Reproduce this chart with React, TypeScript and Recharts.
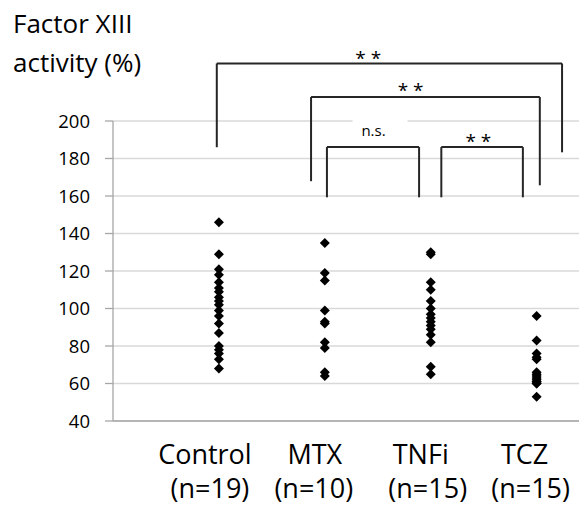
import React from 'react';
import { ScatterChart, Scatter, XAxis, YAxis, CartesianGrid, ReferenceLine, ReferenceDot } from 'recharts';

const FONT = "'Open Sans', 'Noto Sans', sans-serif";

const categories = ['Control', 'MTX', 'TNFi', 'TCZ'];
const groupCounts = ['(n=19)', '(n=10)', '(n=15)', '(n=15)'];
const groupPositions = [1, 2, 3, 4];

const controlValues = [146, 129, 121, 118, 114, 111, 109, 106, 104, 102, 99, 96, 92, 87, 80, 78, 76, 73, 68];
const mtxValues = [135, 119, 115, 99, 93, 92, 82, 79, 66, 64];
const tnfiValues = [130, 129, 114, 110, 104, 100, 97, 95, 93, 91, 89, 86, 82, 69, 65];
const tczValues = [96, 83, 76, 74, 73, 66, 65, 64, 63, 62, 61, 61, 60, 60, 53];

const yTicks = [40, 60, 80, 100, 120, 140, 160, 180, 200];

// significance brackets (x in group units, y in % units)
const brackets = [
  { x1: 0.98, x2: 4.24, top: 230.7, bottom1: 186, bottom2: 183.3 },
  { x1: 1.87, x2: 4.03, top: 212.8, bottom1: 167.9, bottom2: 165.7 },
  { x1: 2.02, x2: 2.89, top: 186.1, bottom1: 159.3, bottom2: 159.3 },
  { x1: 3.1, x2: 3.87, top: 186.1, bottom1: 159.3, bottom2: 159.3 },
];
const bracketLabels = [
  { x: 2.41, y: 230.0, text: '* *', size: 19, box: false },
  { x: 2.81, y: 212.6, text: '* *', size: 19, box: false },
  { x: 2.46, y: 191.8, text: 'n.s.', size: 15, box: true },
  { x: 3.45, y: 185.6, text: '* *', size: 19, box: false },
];

const nameOffsets = [-14, -10, -10, -12];
const countOffsets = [-9, -11, -3, -6];

const seriesValues = [controlValues, mtxValues, tnfiValues, tczValues];
const seriesData = seriesValues.map((vals, i) => vals.map((v) => ({ x: groupPositions[i], y: v })));

function Diamond(props: any) {
  const { cx, cy } = props;
  if (cx == null || cy == null) return null;
  const r = 5;
  return <path d={`M${cx},${cy - r}L${cx + r},${cy}L${cx},${cy + r}L${cx - r},${cy}Z`} fill="#000" />;
}

function CategoryTick(props: any) {
  const { x, y, payload } = props;
  const i = groupPositions.indexOf(payload.value);
  if (i < 0) return null;
  return (
    <g>
      <text x={x + nameOffsets[i]} y={y + 43} textAnchor="middle" fontSize={27} fontFamily={FONT} fill="#000">
        {categories[i]}
      </text>
      <text x={x + countOffsets[i]} y={y + 77} textAnchor="middle" fontSize={27} fontFamily={FONT} fill="#000">
        {groupCounts[i]}
      </text>
    </g>
  );
}

function ValueTick(props: any) {
  const { x, y, payload } = props;
  return (
    <text x={x - 15} y={y} dy="0.36em" textAnchor="end" fontSize={18.5} fontFamily={FONT} fill="#000">
      {payload.value}
    </text>
  );
}

function makeLabelShape(text: string, size: number, box: boolean) {
  return (props: any) => {
    const { cx, cy } = props;
    if (cx == null || cy == null) return null;
    return (
      <g>
        {box && <rect x={cx - 21} y={cy - 20} width={55} height={26} fill="#fff" />}
        <text x={cx} y={cy} textAnchor="middle" fontSize={size} fontFamily={FONT} fill="#000">
          {text}
        </text>
      </g>
    );
  };
}

const LINE = '#262626';

export default function App() {
  return (
    <div style={{ position: 'absolute', left: 0, top: 0, width: 579, height: 507, background: '#fff' }}>
      <ScatterChart width={579} height={507} margin={{ top: 121, right: 0, bottom: 0, left: 0 }}>
        <CartesianGrid horizontal vertical={false} stroke="#d9d9d9" strokeWidth={1.3} />
        <XAxis
          type="number"
          dataKey="x"
          domain={[0, 4.4]}
          ticks={groupPositions}
          interval={0}
          tick={<CategoryTick />}
          tickLine={false}
          tickSize={0}
          tickMargin={0}
          height={86}
          axisLine={{ stroke: '#a6a6a6', strokeWidth: 1.3 }}
        />
        <YAxis
          type="number"
          dataKey="y"
          domain={[40, 200]}
          ticks={yTicks}
          interval={0}
          width={113}
          tickSize={8}
          tickMargin={0}
          tickLine={{ stroke: '#a6a6a6', strokeWidth: 1.3 }}
          axisLine={{ stroke: '#a6a6a6', strokeWidth: 1.3 }}
          tick={<ValueTick />}
        />
        {bracketLabels
          .filter((l) => l.box)
          .map((l, i) => (
            <ReferenceDot key={`lb${i}`} x={l.x} y={l.y} r={0} ifOverflow="visible" shape={makeLabelShape(l.text, l.size, l.box)} />
          ))}
        {seriesData.map((d, i) => (
          <Scatter key={categories[i]} name={categories[i]} data={d} shape={<Diamond />} isAnimationActive={false} />
        ))}
        {brackets.map((b, i) => [
          <ReferenceLine key={`l${i}`} segment={[{ x: b.x1, y: b.bottom1 }, { x: b.x1, y: b.top }]} stroke={LINE} strokeWidth={2} ifOverflow="visible" />,
          <ReferenceLine key={`t${i}`} segment={[{ x: b.x1, y: b.top }, { x: b.x2, y: b.top }]} stroke={LINE} strokeWidth={2} ifOverflow="visible" />,
          <ReferenceLine key={`r${i}`} segment={[{ x: b.x2, y: b.top }, { x: b.x2, y: b.bottom2 }]} stroke={LINE} strokeWidth={2} ifOverflow="visible" />,
        ])}
        {bracketLabels
          .filter((l) => !l.box)
          .map((l, i) => (
            <ReferenceDot key={`la${i}`} x={l.x} y={l.y} r={0} ifOverflow="visible" shape={makeLabelShape(l.text, l.size, l.box)} />
          ))}
      </ScatterChart>
      <div style={{ position: 'absolute', left: 13, top: 10, fontFamily: FONT, fontSize: 26, lineHeight: '26px', color: '#000', whiteSpace: 'nowrap' }}>
        Factor XIII
      </div>
      <div style={{ position: 'absolute', left: 13, top: 49, fontFamily: FONT, fontSize: 26, lineHeight: '26px', color: '#000', whiteSpace: 'nowrap' }}>
        activity (%)
      </div>
    </div>
  );
}
